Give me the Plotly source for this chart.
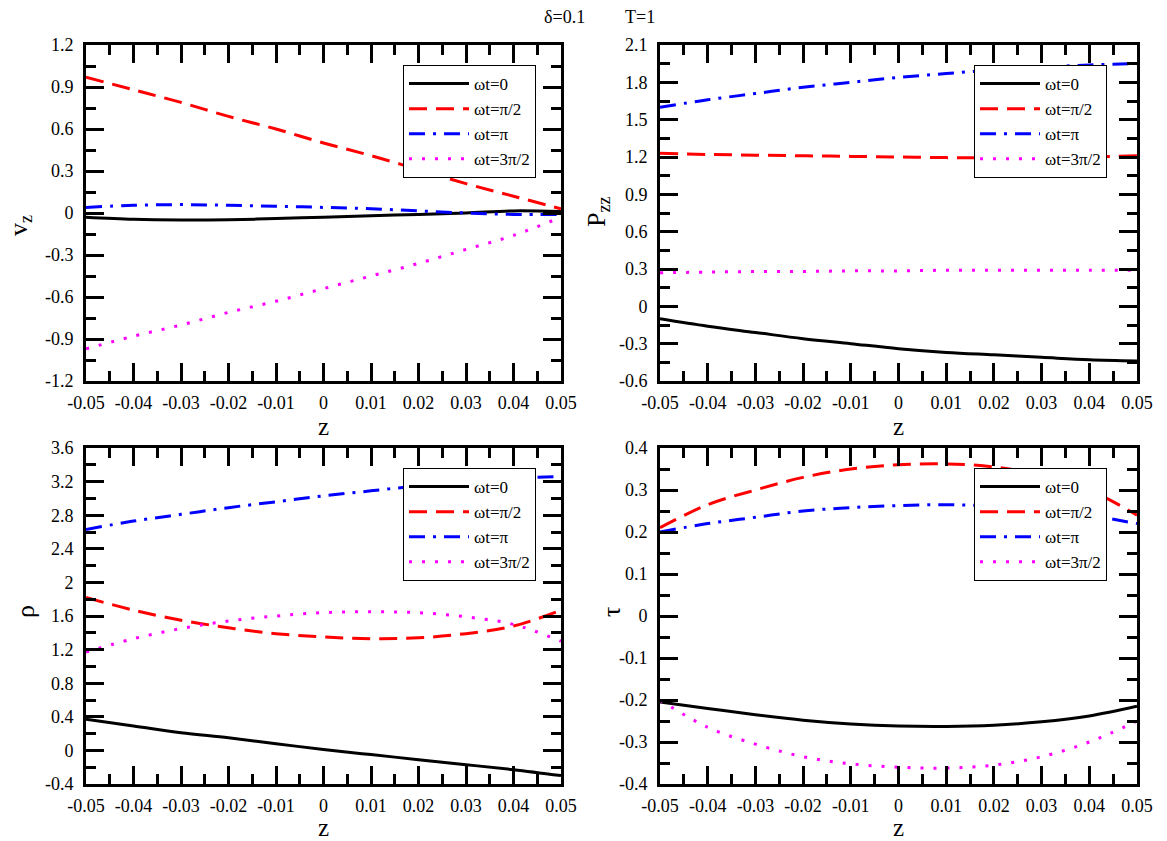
import plotly.graph_objects as go

z = [-0.05, -0.04, -0.03, -0.02, -0.01, 0.0, 0.01, 0.02, 0.03, 0.04, 0.05]
names = ["ωt=0", "ωt=π/2", "ωt=π", "ωt=3π/2"]

x_tickvals = [-0.05, -0.04, -0.03, -0.02, -0.01, 0.0, 0.01, 0.02, 0.03, 0.04, 0.05]
x_ticktext = ["-0.05", "-0.04", "-0.03", "-0.02", "-0.01", "0", "0.01", "0.02", "0.03", "0.04", "0.05"]

# panel 1: v_z
vz_0 = [-0.03, -0.045, -0.05, -0.048, -0.04, -0.03, -0.02, -0.01, 0.0, 0.015, 0.01]
vz_half = [0.97, 0.88, 0.79, 0.69, 0.60, 0.50, 0.41, 0.31, 0.21, 0.12, 0.03]
vz_pi = [0.04, 0.055, 0.06, 0.055, 0.048, 0.04, 0.03, 0.015, 0.0, -0.01, -0.01]
vz_3half = [-0.97, -0.88, -0.80, -0.71, -0.63, -0.54, -0.45, -0.36, -0.26, -0.16, -0.03]
vz_ticks = [-1.2, -0.9, -0.6, -0.3, 0.0, 0.3, 0.6, 0.9, 1.2]
vz_ticktext = ["-1.2", "-0.9", "-0.6", "-0.3", "0", "0.3", "0.6", "0.9", "1.2"]

# panel 2: P_zz
pzz_0 = [-0.10, -0.16, -0.21, -0.26, -0.30, -0.34, -0.37, -0.39, -0.41, -0.43, -0.44]
pzz_half = [1.23, 1.22, 1.215, 1.21, 1.205, 1.20, 1.195, 1.195, 1.195, 1.20, 1.21]
pzz_pi = [1.60, 1.66, 1.71, 1.76, 1.80, 1.84, 1.87, 1.90, 1.92, 1.94, 1.95]
pzz_3half = [0.27, 0.275, 0.28, 0.28, 0.285, 0.285, 0.29, 0.29, 0.29, 0.29, 0.29]
pzz_ticks = [-0.6, -0.3, 0.0, 0.3, 0.6, 0.9, 1.2, 1.5, 1.8, 2.1]
pzz_ticktext = ["-0.6", "-0.3", "0", "0.3", "0.6", "0.9", "1.2", "1.5", "1.8", "2.1"]

# panel 3: rho
rho_0 = [0.37, 0.29, 0.21, 0.15, 0.08, 0.01, -0.05, -0.11, -0.17, -0.23, -0.30]
rho_half = [1.82, 1.67, 1.55, 1.46, 1.39, 1.35, 1.33, 1.34, 1.39, 1.48, 1.67]
rho_pi = [2.63, 2.73, 2.81, 2.89, 2.96, 3.03, 3.09, 3.15, 3.20, 3.24, 3.26]
rho_3half = [1.17, 1.33, 1.45, 1.54, 1.60, 1.64, 1.65, 1.64, 1.59, 1.50, 1.30]
rho_ticks = [-0.4, 0.0, 0.4, 0.8, 1.2, 1.6, 2.0, 2.4, 2.8, 3.2, 3.6]
rho_ticktext = ["-0.4", "0", "0.4", "0.8", "1.2", "1.6", "2", "2.4", "2.8", "3.2", "3.6"]

# panel 4: tau
tau_0 = [-0.205, -0.22, -0.235, -0.248, -0.257, -0.262, -0.263, -0.26, -0.252, -0.238, -0.215]
tau_half = [0.21, 0.265, 0.30, 0.33, 0.35, 0.36, 0.362, 0.355, 0.335, 0.30, 0.24]
tau_pi = [0.20, 0.22, 0.235, 0.25, 0.258, 0.263, 0.265, 0.262, 0.255, 0.24, 0.22]
tau_3half = [-0.20, -0.265, -0.305, -0.335, -0.352, -0.36, -0.362, -0.355, -0.335, -0.30, -0.25]
tau_ticks = [-0.4, -0.3, -0.2, -0.1, 0.0, 0.1, 0.2, 0.3, 0.4]
tau_ticktext = ["-0.4", "-0.3", "-0.2", "-0.1", "0", "0.1", "0.2", "0.3", "0.4"]

panels = [
    ([vz_0, vz_half, vz_pi, vz_3half], "v<sub>z</sub>", vz_ticks, vz_ticktext),
    ([pzz_0, pzz_half, pzz_pi, pzz_3half], "P<sub>zz</sub>", pzz_ticks, pzz_ticktext),
    ([rho_0, rho_half, rho_pi, rho_3half], "ρ", rho_ticks, rho_ticktext),
    ([tau_0, tau_half, tau_pi, tau_3half], "τ", tau_ticks, tau_ticktext),
]

colors = ["#000000", "#ff0000", "#0000ff", "#ff00ff"]
dashes = ["solid", "18px,9px", "16px,8px,3px,8px", "3px,10px"]

W, H = 1167, 841
FONT = "Liberation Serif"
xdoms = [[86 / W, 561 / W], [660 / W, 1137 / W]]
ydoms = [[1 - 381 / H, 1 - 45 / H], [1 - 784 / H, 1 - 448 / H]]
legpos = [(403 / W, 1 - 65 / H), (974 / W, 1 - 65 / H), (403 / W, 1 - 468 / H), (974 / W, 1 - 468 / H)]
ytitle_pos = [(20 / W, 1 - 226 / H), (598 / W, 1 - 212 / H), (25 / W, 1 - 612 / H), (611 / W, 1 - 612 / H)]

fig = go.Figure()
layout = dict(
    width=W, height=H, margin=dict(l=0, r=0, t=0, b=0, autoexpand=False),
    paper_bgcolor="white", plot_bgcolor="white",
    font=dict(family=FONT, size=18, color="black"),
)

for i, (series, ytitle, yt, ytt) in enumerate(panels):
    n = i + 1
    xa = "x" if n == 1 else f"x{n}"
    ya = "y" if n == 1 else f"y{n}"
    lg = "legend" if n == 1 else f"legend{n}"
    for k in range(4):
        fig.add_trace(go.Scatter(
            x=z, y=series[k], mode="lines", name=names[k],
            line=dict(color=colors[k], width=3, dash=dashes[k], shape="spline"),
            xaxis=xa, yaxis=ya, legend=lg,
        ))
    col = i % 2
    row = i // 2
    ystep = yt[1] - yt[0]
    axis_common = dict(
        showline=True, linewidth=3, linecolor="black", mirror="ticks",
        ticks="inside", ticklen=18, tickwidth=3, tickcolor="black",
        showgrid=False, zeroline=False, automargin=False,
        tickfont=dict(family=FONT, size=18),
    )
    layout["xaxis" if n == 1 else f"xaxis{n}"] = dict(
        domain=xdoms[col], anchor=ya, range=[x_tickvals[0], x_tickvals[-1]],
        tickmode="array", tickvals=x_tickvals, ticktext=x_ticktext,
        minor=dict(ticks="inside", ticklen=10, tickwidth=3, tickcolor="black",
                   tickmode="linear", dtick=0.005, tick0=x_tickvals[0], showgrid=False),
        title=dict(text="z", font=dict(family=FONT, size=25), standoff=5),
        ticklabelstandoff=3,
        **axis_common,
    )
    layout["yaxis" if n == 1 else f"yaxis{n}"] = dict(
        domain=ydoms[row], anchor=xa, range=[yt[0], yt[-1]],
        tickmode="array", tickvals=yt, ticktext=ytt,
        minor=dict(ticks="inside", ticklen=10, tickwidth=3, tickcolor="black",
                   tickmode="linear", dtick=ystep / 2, tick0=yt[0], showgrid=False),
        ticklabelstandoff=6,
        **axis_common,
    )
    lx, ly = legpos[i]
    layout[lg] = dict(
        x=lx, y=ly, xanchor="left", yanchor="top",
        bgcolor="white", bordercolor="black", borderwidth=1,
        font=dict(family=FONT, size=17), itemwidth=60,
        tracegroupgap=0,
    )
    tx, ty = ytitle_pos[i]
    fig.add_annotation(text=ytitle, x=tx, y=ty, xref="paper", yref="paper", textangle=-90,
                       showarrow=False, font=dict(family=FONT, size=26),
                       xanchor="center", yanchor="middle")

fig.update_layout(**layout)
fig.add_annotation(text="δ=0.1", x=564.5 / W, y=1 - 17 / H, xref="paper", yref="paper",
                   showarrow=False, font=dict(family=FONT, size=18), xanchor="center", yanchor="middle")
fig.add_annotation(text="T=1", x=640 / W, y=1 - 17 / H, xref="paper", yref="paper",
                   showarrow=False, font=dict(family=FONT, size=18), xanchor="center", yanchor="middle")

fig.write_html("out.html")
